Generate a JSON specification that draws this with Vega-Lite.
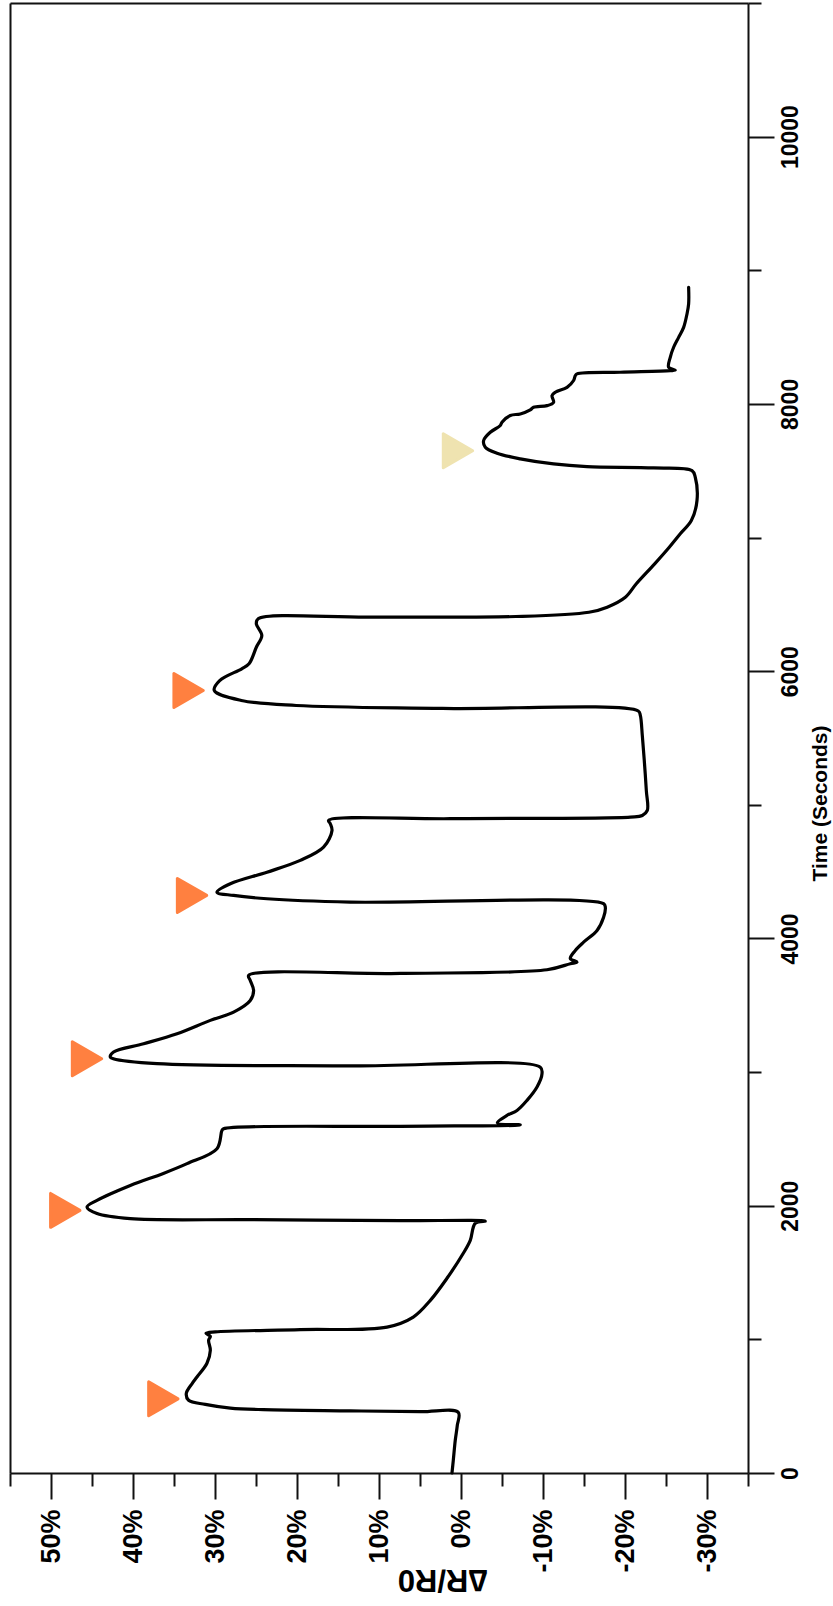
{
  "$schema": "https://vega.github.io/schema/vega-lite/v6.json",
  "width": 738,
  "height": 1470,
  "autosize": {"type": "none"},
  "padding": {"left": 10, "top": 3, "right": 85, "bottom": 133},
  "background": "white",
  "config": {
    "view": {"stroke": null},
    "axis": {"grid": false, "domainColor": "#111", "tickColor": "#111", "labelColor": "#000", "titleColor": "#000", "domainWidth": 2, "tickWidth": 2}
  },
  "resolve": {"axis": {"x": "independent", "y": "independent"}},
  "layer": [
    {
      "data": {"values": [
        {"t": 0, "dr": 1.10}, {"t": 95, "dr": 0.94}, {"t": 245, "dr": 0.70}, {"t": 357, "dr": 0.45}, {"t": 454, "dr": 0.33},
        {"t": 459, "dr": 4.96}, {"t": 465, "dr": 13.50}, {"t": 474, "dr": 24.11}, {"t": 486, "dr": 28.13}, {"t": 514, "dr": 31.18},
        {"t": 544, "dr": 33.22}, {"t": 596, "dr": 33.50}, {"t": 671, "dr": 32.77}, {"t": 718, "dr": 32.20}, {"t": 821, "dr": 30.98},
        {"t": 918, "dr": 30.57}, {"t": 993, "dr": 30.78}, {"t": 1023, "dr": 30.57}, {"t": 1045, "dr": 31.10}, {"t": 1056, "dr": 29.96},
        {"t": 1073, "dr": 19.60}, {"t": 1092, "dr": 9.02}, {"t": 1167, "dr": 5.82}, {"t": 1292, "dr": 3.74}, {"t": 1457, "dr": 1.71},
        {"t": 1644, "dr": -0.28}, {"t": 1741, "dr": -1.13}, {"t": 1869, "dr": -1.74}, {"t": 1885, "dr": -2.96}, {"t": 1888, "dr": 7.40},
        {"t": 1896, "dr": 25.70}, {"t": 1903, "dr": 40.33}, {"t": 1941, "dr": 44.39}, {"t": 1990, "dr": 45.61}, {"t": 2040, "dr": 44.39},
        {"t": 2152, "dr": 40.33}, {"t": 2242, "dr": 36.30}, {"t": 2315, "dr": 33.41}, {"t": 2427, "dr": 29.76}, {"t": 2564, "dr": 29.15},
        {"t": 2576, "dr": 28.95}, {"t": 2594, "dr": 7.40}, {"t": 2605, "dr": -7.23}, {"t": 2620, "dr": -4.43}, {"t": 2676, "dr": -5.61},
        {"t": 2713, "dr": -6.83}, {"t": 2788, "dr": -8.05}, {"t": 2888, "dr": -9.27}, {"t": 2988, "dr": -9.88}, {"t": 3037, "dr": -9.67},
        {"t": 3046, "dr": 13.50}, {"t": 3063, "dr": 37.07}, {"t": 3100, "dr": 42.40}, {"t": 3112, "dr": 42.77}, {"t": 3150, "dr": 42.37},
        {"t": 3212, "dr": 38.71}, {"t": 3287, "dr": 34.63}, {"t": 3387, "dr": 30.57}, {"t": 3449, "dr": 27.73}, {"t": 3536, "dr": 25.70},
        {"t": 3611, "dr": 25.29}, {"t": 3686, "dr": 25.70}, {"t": 3723, "dr": 25.90}, {"t": 3738, "dr": 7.40}, {"t": 3766, "dr": -10.49},
        {"t": 3811, "dr": -13.33}, {"t": 3823, "dr": -14.15}, {"t": 3850, "dr": -13.33}, {"t": 3910, "dr": -13.94}, {"t": 3972, "dr": -14.95},
        {"t": 4060, "dr": -16.59}, {"t": 4159, "dr": -17.39}, {"t": 4234, "dr": -17.60}, {"t": 4260, "dr": -17.39}, {"t": 4272, "dr": 13.50},
        {"t": 4297, "dr": 23.66}, {"t": 4322, "dr": 27.73}, {"t": 4346, "dr": 29.76}, {"t": 4409, "dr": 28.13}, {"t": 4496, "dr": 23.66},
        {"t": 4584, "dr": 19.60}, {"t": 4683, "dr": 16.76}, {"t": 4808, "dr": 15.73}, {"t": 4858, "dr": 15.94}, {"t": 4883, "dr": 16.15},
        {"t": 4896, "dr": 1.30}, {"t": 4908, "dr": -20.65}, {"t": 4920, "dr": -22.11}, {"t": 4958, "dr": -22.72}, {"t": 5107, "dr": -22.60},
        {"t": 5332, "dr": -22.35}, {"t": 5519, "dr": -22.11}, {"t": 5669, "dr": -21.87}, {"t": 5702, "dr": -21.62}, {"t": 5721, "dr": 2.28},
        {"t": 5743, "dr": 20.09}, {"t": 5781, "dr": 26.79}, {"t": 5856, "dr": 30.09}, {"t": 5930, "dr": 29.43}, {"t": 6018, "dr": 26.74},
        {"t": 6055, "dr": 25.85}, {"t": 6179, "dr": 24.96}, {"t": 6267, "dr": 24.29}, {"t": 6354, "dr": 24.96}, {"t": 6392, "dr": 24.74},
        {"t": 6404, "dr": 11.15}, {"t": 6409, "dr": -6.68}, {"t": 6441, "dr": -15.60}, {"t": 6479, "dr": -17.83}, {"t": 6553, "dr": -20.04},
        {"t": 6654, "dr": -21.38}, {"t": 6803, "dr": -23.62}, {"t": 6927, "dr": -25.40}, {"t": 7028, "dr": -26.74}, {"t": 7127, "dr": -28.09},
        {"t": 7277, "dr": -28.78}, {"t": 7451, "dr": -28.57}, {"t": 7501, "dr": -28.17}, {"t": 7521, "dr": -23.49}, {"t": 7531, "dr": -15.37},
        {"t": 7551, "dr": -11.29}, {"t": 7589, "dr": -7.23}, {"t": 7631, "dr": -4.39}, {"t": 7676, "dr": -2.96}, {"t": 7726, "dr": -2.76},
        {"t": 7788, "dr": -3.57}, {"t": 7838, "dr": -4.79}, {"t": 7863, "dr": -5.00}, {"t": 7913, "dr": -6.01}, {"t": 7925, "dr": -7.23},
        {"t": 7955, "dr": -8.45}, {"t": 7975, "dr": -8.85}, {"t": 7987, "dr": -10.49}, {"t": 8012, "dr": -11.29}, {"t": 8062, "dr": -11.10},
        {"t": 8087, "dr": -11.50}, {"t": 8124, "dr": -12.93}, {"t": 8175, "dr": -13.73}, {"t": 8212, "dr": -13.94}, {"t": 8225, "dr": -14.15},
        {"t": 8237, "dr": -19.43}, {"t": 8249, "dr": -25.52}, {"t": 8253, "dr": -26.13}, {"t": 8274, "dr": -25.32}, {"t": 8349, "dr": -25.52},
        {"t": 8424, "dr": -25.93}, {"t": 8498, "dr": -26.54}, {"t": 8573, "dr": -27.15}, {"t": 8673, "dr": -27.56}, {"t": 8748, "dr": -27.76},
        {"t": 8873, "dr": -27.76}
      ]},
      "mark": {"type": "line", "color": "#000", "strokeWidth": 3.2, "strokeJoin": "round", "strokeCap": "round", "interpolate": "catmull-rom"},
      "encoding": {
        "x": {
          "field": "dr", "type": "quantitative",
          "scale": {"domain": [-35, 55], "reverse": true, "nice": false, "zero": false},
          "axis": {
            "orient": "bottom",
            "values": [-35, -30, -25, -20, -15, -10, -5, 0, 5, 10, 15, 20, 25, 30, 35, 40, 45, 50, 55],
            "tickSize": {"condition": {"test": "datum.value % 10 === 0", "value": 26}, "value": 13},
            "labelExpr": "datum.value % 10 === 0 ? datum.value + '%' : ''",
            "labelAngle": 270,
            "labelAlign": "right",
            "labelBaseline": "middle",
            "labelPadding": 10,
            "labelFont": "Liberation Sans Narrow, Liberation Sans, Arial",
            "labelFontWeight": "bold",
            "labelFontSize": 27,
            "labelOverlap": false,
            "labelBound": false,
            "labelFlush": false,
            "title": "∆R/R0",
            "titleFont": "Liberation Sans, Arial",
            "titleFontWeight": "bold",
            "titleFontSize": 31,
            "titleAngle": 180,
            "titleAlign": "center",
            "titleBaseline": "middle",
            "titleX": 432,
            "titleY": 105
          }
        },
        "y": {
          "field": "t", "type": "quantitative",
          "scale": {"domain": [0, 11000], "nice": false, "zero": false},
          "axis": {
            "orient": "right",
            "values": [0, 1000, 2000, 3000, 4000, 5000, 6000, 7000, 8000, 9000, 10000, 11000],
            "tickSize": {"condition": {"test": "datum.value % 2000 === 0", "value": 26}, "value": 13},
            "format": "d",
            "labelExpr": "datum.value % 2000 === 0 ? datum.label : ''",
            "labelAngle": 270,
            "labelAlign": "center",
            "labelBaseline": "middle",
            "labelPadding": 16,
            "labelFont": "Liberation Sans Narrow, Liberation Sans, Arial",
            "labelFontWeight": "bold",
            "labelFontSize": 23,
            "labelOverlap": false,
            "labelBound": false,
            "labelFlush": false,
            "title": "Time (Seconds)",
            "titleFont": "Liberation Sans Narrow, Liberation Sans, Arial",
            "titleFontWeight": "bold",
            "titleFontSize": 21,
            "titleAngle": 270,
            "titleAlign": "center",
            "titleBaseline": "middle",
            "titleX": 72,
            "titleY": 800
          }
        },
        "order": {"field": "t", "type": "quantitative"}
      }
    },
    {
      "data": {"values": [
        {"t": 555, "dr": 36.30, "kind": "strong"},
        {"t": 1965, "dr": 48.26, "kind": "strong"},
        {"t": 3100, "dr": 45.61, "kind": "strong"},
        {"t": 4322, "dr": 32.80, "kind": "strong"},
        {"t": 5855, "dr": 33.22, "kind": "strong"},
        {"t": 7649, "dr": 0.37, "kind": "pale"}
      ]},
      "mark": {"type": "point", "shape": "triangle-right", "filled": true, "size": 1150, "opacity": 1, "strokeWidth": 3, "strokeJoin": "round"},
      "encoding": {
        "x": {
          "field": "dr", "type": "quantitative",
          "axis": {"orient": "top", "ticks": false, "labels": false, "title": null, "domainWidth": 2}
        },
        "y": {
          "field": "t", "type": "quantitative",
          "axis": {"orient": "left", "ticks": false, "labels": false, "title": null, "domainWidth": 2}
        },
        "color": {"field": "kind", "type": "nominal", "scale": {"domain": ["strong", "pale"], "range": ["#FF8040", "#EFE3B0"]}, "legend": null},
        "stroke": {"field": "kind", "type": "nominal", "scale": {"domain": ["strong", "pale"], "range": ["#FF8040", "#EFE3B0"]}, "legend": null}
      }
    }
  ]
}
